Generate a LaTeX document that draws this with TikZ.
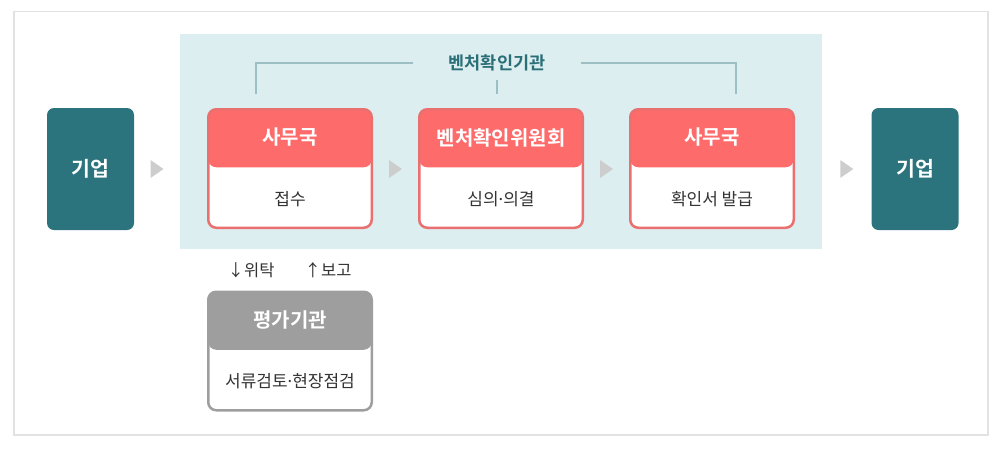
\documentclass[tikz,border=0pt]{standalone}
\usepackage{fontspec}
\setmainfont{Noto Sans CJK KR}[BoldFont={Noto Sans CJK KR Bold}]
\newfontfamily\latinfont{Noto Sans}
\newcommand{\mdot}{{\latinfont ·}}
\usetikzlibrary{calc}

\definecolor{corp}{HTML}{2B747D}
\definecolor{panel}{HTML}{DCEEEF}
\definecolor{brk}{HTML}{9DBEC3}
\definecolor{hdr}{HTML}{FD6B6B}
\definecolor{hdrline}{HTML}{EA7070}
\definecolor{evalgray}{HTML}{9E9E9E}
\definecolor{tri}{HTML}{CDCDCD}
\definecolor{frame}{HTML}{E2E2E2}
\definecolor{ttlcol}{HTML}{2A6E77}
\definecolor{txt}{HTML}{333333}

\begin{document}
\begin{tikzpicture}[x=1pt, y=-1pt,
  corpbox/.style={fill=corp, rounded corners=7pt, minimum width=87pt, minimum height=122pt,
    text=white, font=\bfseries\fontsize{20.5}{21}\selectfont},
  stepcard/.style 2 args={draw=#2, fill=white, line width=2.5pt, rounded corners=8pt,
    minimum width=163.5pt, minimum height=118.5pt,
    path picture={\fill[#1] (path picture bounding box.north west)
      rectangle ([yshift=-58pt]path picture bounding box.north east);}},
  hdrtext/.style={text=white, font=\bfseries\fontsize{20}{21}\selectfont},
  bodytext/.style={text=txt, font=\fontsize{17}{18}\selectfont},
  brkline/.style={draw=brk, line width=2.3pt},
  tip/.style={fill=tri}
]
  \useasboundingbox (0,0) rectangle (1003,451);
  \draw[frame, line width=1.5pt] (14,11.5) rectangle (988,435);

  % panel of the confirming bodies
  \node[fill=panel, minimum width=642pt, minimum height=215pt, inner sep=0pt] (bg) at (501,141.5) {};
  \node[text=ttlcol, font=\bfseries\fontsize{17.5}{18}\selectfont, minimum width=167pt,
    minimum height=34pt, inner sep=0pt] (ttl) at (497,63) {벤처확인기관};
  \draw[brkline] (ttl.west) -| (256,94);
  \draw[brkline] (ttl.east) -| (736,94);
  \draw[brkline] (ttl.south) -- ++(0,14);

  \node[corpbox] (c1) at (90.5,169) {기업};
  \node[corpbox] (c2) at (915,169) {기업};

  \node[stepcard={hdr}{hdrline}] (s1) at (290,168.5) {};
  \node[stepcard={hdr}{hdrline}] (s2) at (501,168.5) {};
  \node[stepcard={hdr}{hdrline}] (s3) at (712,168.5) {};
  \node[hdrtext] (s1h) at ([yshift=-29.5pt]s1.north) {사무국};
  \node[hdrtext] (s2h) at ([yshift=-29.5pt]s2.north) {벤처확인위원회};
  \node[hdrtext] (s3h) at ([yshift=-29.5pt]s3.north) {사무국};
  \node[bodytext] (s1b) at ([yshift=30pt]s1.south) {접수};
  \node[bodytext] (s2b) at ([yshift=30pt]s2.south) {심의\mdot 의결};
  \node[bodytext] (s3b) at ([yshift=30pt]s3.south) {확인서 발급};

  % evaluation body below
  \node[stepcard={evalgray}{evalgray}] (ev) at (290,351) {};
  \node[hdrtext] (evh) at ([yshift=-29.5pt]ev.north) {평가기관};
  \node[bodytext] (evb) at ([yshift=30pt]ev.south) {서류검토\mdot 현장점검};
  \node[text=txt, font=\fontsize{16.5}{17}\selectfont] (rq) at (251,270) {↓위탁};
  \node[text=txt, font=\fontsize{16.5}{17}\selectfont] (rp) at (328,270) {↑보고};

  % flow marks
  \coordinate (t1) at ($(c1.east)!.5!(bg.west)$);
  \coordinate (t2) at ($(s1.east)!.5!(s2.west)$);
  \coordinate (t3) at ($(s2.east)!.5!(s3.west)$);
  \coordinate (t4) at ($(bg.east)!.5!(c2.west)$);
  \foreach \t in {t1,t2,t3,t4}
    \fill[tip] (\t |- 0,169) ++(-6.5,-9) -- ++(13,9) -- ++(-13,9) -- cycle;
\end{tikzpicture}
\end{document}
